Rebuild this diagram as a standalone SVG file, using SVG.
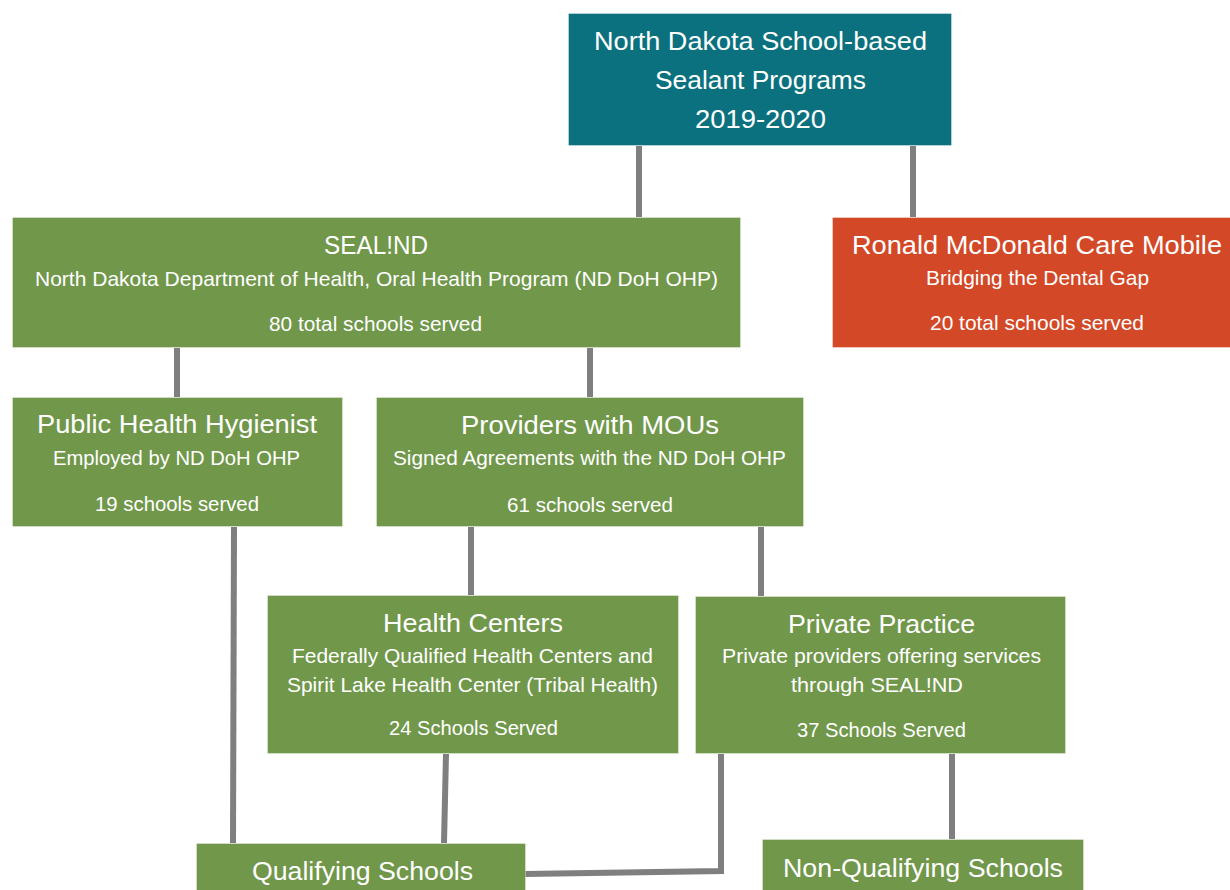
<svg xmlns="http://www.w3.org/2000/svg" width="1230" height="890" viewBox="0 0 1230 890">
<style>
.box{stroke:#ffffff;stroke-opacity:0.35;stroke-width:1}
.teal{fill:#0b717e}
.green{fill:#70974a}
.orange{fill:#d34826}
.t{font-family:"Liberation Sans",Arial,sans-serif;fill:#ffffff;text-anchor:middle}
.h{font-size:25px}
.s{font-size:21px}
.conn{stroke:#7f7f7f;stroke-width:6;fill:none}
</style>
<rect width="1230" height="890" fill="#ffffff"/>
<g id="connectors">
<line class="conn" x1="639" y1="146" x2="639" y2="217"/>
<line class="conn" x1="913" y1="146" x2="913" y2="217"/>
<line class="conn" x1="177" y1="348" x2="177" y2="397"/>
<line class="conn" x1="590" y1="348" x2="590" y2="397"/>
<line class="conn" x1="471" y1="527" x2="471" y2="595"/>
<line class="conn" x1="761" y1="527" x2="761" y2="596"/>
<line class="conn" x1="234" y1="527" x2="233" y2="843"/>
<line class="conn" x1="446" y1="754" x2="444" y2="843"/>
<polyline class="conn" points="721,754 721,871 525,874"/>
<line class="conn" x1="952" y1="754" x2="952" y2="839"/>
</g>
<g id="root">
<rect class="box teal" x="568.5" y="13.5" width="383" height="132"/>
<text class="t h" x="760.5" y="50" textLength="333" lengthAdjust="spacingAndGlyphs">North Dakota School-based</text>
<text class="t h" x="760.5" y="89" textLength="211" lengthAdjust="spacingAndGlyphs">Sealant Programs</text>
<text class="t h" x="760.5" y="128" textLength="131" lengthAdjust="spacingAndGlyphs">2019-2020</text>
</g>
<g id="sealnd">
<rect class="box green" x="12.5" y="217.5" width="728" height="130"/>
<text class="t h" x="376" y="254" textLength="104" lengthAdjust="spacingAndGlyphs">SEAL!ND</text>
<text class="t s" x="376.5" y="286" textLength="683" lengthAdjust="spacingAndGlyphs">North Dakota Department of Health, Oral Health Program (ND DoH OHP)</text>
<text class="t s" x="375.5" y="331" textLength="213" lengthAdjust="spacingAndGlyphs">80 total schools served</text>
</g>
<g id="ronald">
<rect class="box orange" x="832.5" y="217.5" width="410" height="130"/>
<text class="t h" x="1037" y="254" textLength="370" lengthAdjust="spacingAndGlyphs">Ronald McDonald Care Mobile</text>
<text class="t s" x="1037.5" y="285" textLength="223" lengthAdjust="spacingAndGlyphs">Bridging the Dental Gap</text>
<text class="t s" x="1037" y="330" textLength="214" lengthAdjust="spacingAndGlyphs">20 total schools served</text>
</g>
<g id="phh">
<rect class="box green" x="12.5" y="397.5" width="330" height="129"/>
<text class="t h" x="177" y="433" textLength="280" lengthAdjust="spacingAndGlyphs">Public Health Hygienist</text>
<text class="t s" x="176.5" y="465" textLength="247" lengthAdjust="spacingAndGlyphs">Employed by ND DoH OHP</text>
<text class="t s" x="177" y="511" textLength="164" lengthAdjust="spacingAndGlyphs">19 schools served</text>
</g>
<g id="providers">
<rect class="box green" x="376.5" y="397.5" width="427" height="129"/>
<text class="t h" x="590" y="434" textLength="258" lengthAdjust="spacingAndGlyphs">Providers with MOUs</text>
<text class="t s" x="589.5" y="465" textLength="393" lengthAdjust="spacingAndGlyphs">Signed Agreements with the ND DoH OHP</text>
<text class="t s" x="590" y="512" textLength="166" lengthAdjust="spacingAndGlyphs">61 schools served</text>
</g>
<g id="health-centers">
<rect class="box green" x="267.5" y="595.5" width="411" height="158"/>
<text class="t h" x="473" y="632" textLength="180" lengthAdjust="spacingAndGlyphs">Health Centers</text>
<text class="t s" x="472.5" y="663" textLength="361" lengthAdjust="spacingAndGlyphs">Federally Qualified Health Centers and</text>
<text class="t s" x="472.5" y="692" textLength="371" lengthAdjust="spacingAndGlyphs">Spirit Lake Health Center (Tribal Health)</text>
<text class="t s" x="473.5" y="735" textLength="169" lengthAdjust="spacingAndGlyphs">24 Schools Served</text>
</g>
<g id="private-practice">
<rect class="box green" x="695.5" y="596.5" width="370" height="157"/>
<text class="t h" x="881.5" y="633" textLength="187" lengthAdjust="spacingAndGlyphs">Private Practice</text>
<text class="t s" x="881.5" y="663" textLength="319" lengthAdjust="spacingAndGlyphs">Private providers offering services</text>
<text class="t s" x="877" y="692" textLength="172" lengthAdjust="spacingAndGlyphs">through SEAL!ND</text>
<text class="t s" x="881.5" y="737" textLength="169" lengthAdjust="spacingAndGlyphs">37 Schools Served</text>
</g>
<g id="qualifying">
<rect class="box green" x="196.5" y="843.5" width="329" height="60"/>
<text class="t h" x="362.5" y="880" textLength="221" lengthAdjust="spacingAndGlyphs">Qualifying Schools</text>
</g>
<g id="non-qualifying">
<rect class="box green" x="762.5" y="839.5" width="321" height="60"/>
<text class="t h" x="923" y="877" textLength="280" lengthAdjust="spacingAndGlyphs">Non-Qualifying Schools</text>
</g>
</svg>
